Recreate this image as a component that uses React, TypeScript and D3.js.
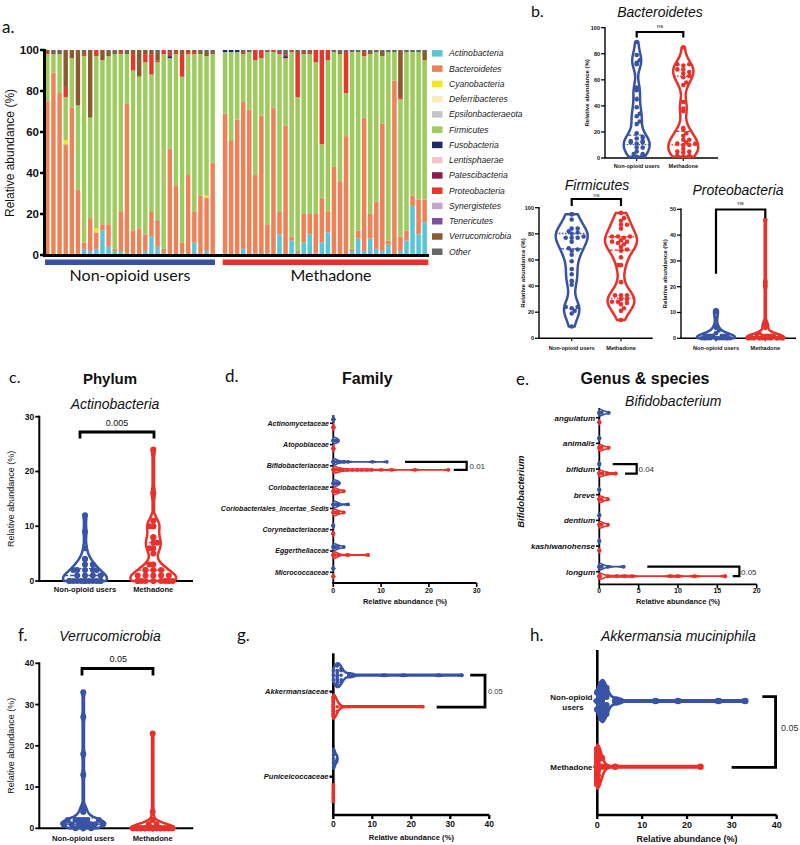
import React from 'react';
import * as d3 from 'd3';

const FONT = "'Liberation Sans', Arial, Helvetica, sans-serif";
const FONT_M = "Lato, 'Liberation Sans', Arial, sans-serif";
const BLUE = '#3953a4';
const RED = '#e8312a';
const groupNames = ['Non-opioid users', 'Methadone'];

// ---------------- Panel a: stacked relative abundance ----------------
const phyla = ['Actinobacteria', 'Bacteroidetes', 'Cyanobacteria', 'Deferribacteres', 'Epsilonbacteraeota', 'Firmicutes', 'Fusobacteria', 'Lentisphaerae', 'Patescibacteria', 'Proteobacteria', 'Synergistetes', 'Tenericutes', 'Verrucomicrobia', 'Other'];
const phylaColors = ['#55c7d9', '#ef8156', '#f2e61c', '#f6ecb9', '#c4c4c4', '#9dcb5d', '#1d2b6b', '#f6c4cd', '#8b1c4d', '#e8362c', '#c9a2cd', '#7d51a0', '#8c5a2c', '#666666'];

const nonActino = [0, 0, 0, 0, 0, 0, 3, 2, 3, 12, 4, 2, 2, 1, 0, 0, 2, 9, 4, 1, 0, 0, 1, 0, 6, 1, 2, 0];
const nonBacter = [75, 89, 79, 54, 72, 32, 3, 16, 8, 3, 11, 1, 19, 73, 12, 13, 8, 12, 13, 2, 52, 34, 5, 39, 15, 28, 26, 45];
const nonCyano = [0, 0, 0, 2, 0, 0, 0, 0, 2, 0, 0, 0, 0, 0, 0, 0, 0, 0, 0, 0, 0, 0, 0, 0, 0, 0, 1, 0];
const nonFirm = [23, 9, 19, 21, 24, 41, 91, 49, 84, 80, 82, 95, 77, 24, 78, 74, 84, 67, 77, 95, 44, 64, 81, 59, 77, 69, 68, 53];
const nonFuso = [0, 0, 0, 0, 0, 0, 0, 0, 0, 0, 0, 0, 0, 0, 0, 0, 0, 0, 0, 0, 1, 0, 0, 0, 0, 0, 0, 0];
const nonProteo = [1, 0, 0, 5, 0, 0, 1, 0, 3, 0, 0, 0, 1, 0, 8, 0, 4, 10, 1, 2, 2, 1, 11, 1, 1, 0, 0, 0];
const nonVerruco = [1, 1, 1, 18, 4, 27, 1, 33, 0, 5, 2, 1, 1, 1, 2, 13, 2, 2, 4, 0, 0, 1, 2, 1, 1, 1, 2, 1];
const nonOther = [0, 1, 1, 0, 0, 0, 1, 0, 0, 0, 1, 1, 0, 1, 0, 0, 0, 0, 1, 0, 1, 0, 0, 0, 0, 1, 1, 1];

const methActino = [1, 0, 0, 3, 0, 1, 0, 1, 0, 10, 0, 7, 1, 6, 10, 1, 6, 11, 0, 0, 0, 2, 8, 2, 8, 3, 2, 5, 0, 2, 7, 24, 10, 16];
const methBacter = [68, 56, 66, 72, 71, 38, 68, 14, 72, 11, 63, 2, 1, 14, 10, 19, 22, 10, 43, 36, 58, 1, 4, 65, 12, 23, 62, 2, 85, 7, 5, 5, 17, 11];
const methFirm = [30, 43, 33, 23, 28, 56, 28, 84, 27, 77, 33, 90, 75, 78, 78, 74, 26, 74, 56, 62, 21, 96, 87, 30, 78, 73, 33, 92, 14, 67, 87, 70, 72, 68];
const methFuso = [1, 1, 1, 0, 0, 0, 0, 0, 0, 0, 1, 0, 0, 0, 0, 0, 0, 0, 0, 0, 0, 0, 0, 0, 0, 0, 0, 0, 0, 0, 0, 0, 0, 0];
const methProteo = [0, 0, 0, 1, 0, 5, 4, 0, 1, 1, 1, 1, 22, 1, 1, 6, 46, 5, 0, 0, 20, 0, 0, 2, 0, 0, 0, 0, 0, 1, 0, 0, 0, 0];
const methVerruco = [0, 0, 0, 0, 0, 0, 0, 0, 0, 0, 0, 0, 0, 0, 0, 0, 0, 0, 0, 1, 0, 0, 0, 0, 1, 0, 2, 0, 0, 23, 0, 0, 0, 4];
const methOther = [0, 0, 0, 1, 1, 0, 0, 1, 0, 1, 2, 0, 1, 1, 1, 0, 0, 0, 1, 1, 1, 1, 1, 1, 1, 1, 1, 1, 1, 0, 1, 1, 1, 1];

const yTicksA = [0, 20, 40, 60, 80, 100];
const yTicksB = [0, 20, 40, 60, 80, 100];
const yTicksProteo = [0, 10, 20, 30, 40, 50];
const yTicksC = [0, 10, 20, 30];
const yTicksF = [0, 10, 20, 30, 40];

// ---------------- Panel d: family ----------------
const families = ['Actinomycetaceae', 'Atopobiaceae', 'Bifidobacteriaceae', 'Coriobacteriaceae', 'Coriobacteriales_Incertae_Sedis', 'Corynebacteriaceae', 'Eggerthellaceae', 'Micrococcaceae'];
const familyNonOpioid = [
  [0, 0, 0, 0, 0, 0.1],
  [0, 0, 0, 0, 0.2, 0.5, 1.0],
  [0, 0, 0, 0, 0, 0, 0.2, 0.7, 1.4, 2.2, 3.1, 8.2, 11.2],
  [0, 0, 0, 0.3, 0.7, 1.2],
  [0, 0, 0, 0.5, 1.0, 3.1],
  [0, 0, 0, 0],
  [0, 0, 0, 0.5, 1.0, 2.2],
  [0, 0, 0],
];
const familyMethadone = [
  [0, 0, 0, 0, 0.1],
  [0, 0, 0, 0, 0.1],
  [0, 0, 0, 0.2, 0.5, 1, 1.5, 2, 3, 4, 5, 6, 7, 8, 10, 12.2, 17.1, 24.1],
  [0, 0, 0.2, 0.5, 1.0, 2.2],
  [0, 0, 0, 0.5, 1.0, 2.2],
  [0, 0, 0, 0],
  [0, 0, 0, 0.3, 1.0, 3.0, 7.3],
  [0, 0, 0],
];
const xTicksD = [0, 10, 20, 30];

// ---------------- Panel e: Bifidobacterium species ----------------
const species = ['angulatum', 'animalis', 'bifidum', 'breve', 'dentium', 'kashiwanohense', 'longum'];
const speciesNonOpioid = [
  [0, 0, 0, 0.3, 1.2],
  [0, 0, 0],
  [0, 0, 0],
  [0, 0, 0],
  [0, 0],
  [0, 0],
  [0, 0, 0, 0, 0.3, 1.1, 3.1],
];
const speciesMethadone = [
  [0, 0, 0],
  [0, 0, 0, 0.3, 1.2],
  [0, 0, 0, 0.4, 1.0, 2.1],
  [0, 0, 0, 0.3, 1.1],
  [0, 0, 0, 0.3, 1.1],
  [0, 0],
  [0, 0, 0, 0.1, 1.1, 2.2, 3.2, 4.2, 9.0, 10.0, 12.1, 16.0],
];
const xTicksE = [0, 5, 10, 15, 20];

// ---------------- Panels g/h: Verrucomicrobia families / species ----------------
const verrucoFamilies = ['Akkermansiaceae', 'Puniceicoccaceae'];
const akkermansiaNonOpioid = [1, 1, 1, 18, 4, 27, 1, 33, 0, 5, 2, 1, 1, 1, 2, 13, 2, 2, 4, 0, 0, 1, 2, 1, 1, 1, 2, 1];
const akkermansiaMethadone = [0, 0, 0, 0, 0, 0, 0, 0, 0, 0, 0, 0, 0, 0, 0, 0, 0, 0, 0, 1, 0, 0, 0, 0, 1, 0, 2, 0, 0, 23, 0, 0, 0, 4];
const puniNonOpioid = [0, 0, 0, 0, 0.3, 0.6, 1.0];
const puniMethadone = [0, 0, 0, 0];
const xTicksG = [0, 10, 20, 30, 40];

// ---------------- helpers ----------------
type Pt = { v: number; w: number };

function profile(values: number[], bw: number, steps = 100): Pt[] | null {
  const lo = d3.min(values) as number;
  const hi = d3.max(values) as number;
  if (hi - lo < 1e-9) return null;
  const out: Pt[] = [];
  for (let i = 0; i <= steps; i++) {
    const v = lo + ((hi - lo) * i) / steps;
    const d = d3.sum(values, (x) => Math.exp(-0.5 * ((v - x) / bw) ** 2));
    out.push({ v, w: d });
  }
  const m = d3.max(out, (p) => p.w) as number;
  out.forEach((p) => (p.w /= m));
  return out;
}

function widthAt(prof: Pt[] | null, v: number) {
  if (!prof) return 1;
  const i = d3.bisector((p: Pt) => p.v).left(prof, v);
  if (i <= 0) return prof[0].w;
  if (i >= prof.length) return prof[prof.length - 1].w;
  const a = prof[i - 1], b = prof[i];
  const t = (v - a.v) / (b.v - a.v || 1);
  return a.w + (b.w - a.w) * t;
}

function swarm(values: number[], scale: (v: number) => number, prof: Pt[] | null, half: number, r: number) {
  const placed: { pos: number; off: number }[] = [];
  const order = [...values].sort((a, b) => a - b);
  for (const v of order) {
    const pos = scale(v);
    const w = widthAt(prof, v) * half;
    const maxOff = Math.max(0, w - r * 0.5);
    const step = r * 1.3;
    const cands = [0];
    for (let k = 1; k * step <= maxOff + 0.01; k++) cands.push(k * step, -k * step);
    let chosen = cands.find((c) => placed.every((q) => Math.hypot(q.pos - pos, q.off - c) >= r * 1.6));
    if (chosen === undefined) chosen = cands[placed.length % cands.length];
    placed.push({ pos, off: chosen });
  }
  return placed;
}

function Violin({ values, scale, c, half, bw, color, r, sw = 2.5, orient = 'v', quart = false, minW = 0.03 }: any) {
  const prof = profile(values, bw);
  const W = (w: number) => Math.max(w, minW) * half;
  let d: string | null = null;
  if (prof) {
    if (orient === 'v') d = d3.area<Pt>().y((p) => scale(p.v)).x0((p) => c - W(p.w)).x1((p) => c + W(p.w)).curve(d3.curveBasis)(prof);
    else d = d3.area<Pt>().x((p) => scale(p.v)).y0((p) => c - W(p.w)).y1((p) => c + W(p.w)).curve(d3.curveBasis)(prof);
  }
  const pts = swarm(values, scale, prof, half, r);
  const sorted = [...values].sort(d3.ascending);
  const qs = [0.25, 0.5, 0.75].map((p) => d3.quantile(sorted, p) as number);
  return (
    <g>
      {d && <path d={d} fill="#fff" stroke={color} strokeWidth={sw} strokeLinejoin="round" />}
      {!prof && (orient === 'v'
        ? <line x1={c - half} x2={c + half} y1={scale(values[0])} y2={scale(values[0])} stroke={color} strokeWidth={sw} />
        : <line y1={c - half} y2={c + half} x1={scale(values[0])} x2={scale(values[0])} stroke={color} strokeWidth={sw} />)}
      {quart && prof && qs.map((q, i) => {
        const w = W(widthAt(prof, q));
        return orient === 'v'
          ? <line key={i} x1={c - w} x2={c + w} y1={scale(q)} y2={scale(q)} stroke={color} strokeWidth={1.3} strokeDasharray={i === 1 ? '4,2' : '1.5,1.5'} />
          : <line key={i} y1={c - w} y2={c + w} x1={scale(q)} x2={scale(q)} stroke={color} strokeWidth={1.3} strokeDasharray={i === 1 ? '4,2' : '1.5,1.5'} />;
      })}
      {pts.map((p, i) => orient === 'v'
        ? <circle key={i} cx={c + p.off} cy={p.pos} r={r} fill={color} />
        : <circle key={i} cx={p.pos} cy={c + p.off} r={r} fill={color} />)}
    </g>
  );
}

function T({ x, y, children, size, weight = 'normal', italic = false, anchor = 'start', family = FONT, fill = '#111', rotate, dy }: any) {
  return (
    <text x={x} y={y} dy={dy} fontSize={size} fontWeight={weight} fontStyle={italic ? 'italic' : 'normal'} textAnchor={anchor} fontFamily={family} fill={fill}
      transform={rotate ? `rotate(${rotate},${x},${y})` : undefined}>{children}</text>
  );
}

function VAxes({ y, axisX, axisEnd, ticks, tickFs, sw, centers, labelFs, labelY, ylabX, ylabFs, ylabBold }: any) {
  const [y0, y1] = y.range();
  const mid = (y0 + y1) / 2;
  return (
    <g>
      <line x1={axisX} x2={axisX} y1={y1 - sw / 2} y2={y0} stroke="#000" strokeWidth={sw} />
      <line x1={axisX - sw / 2} x2={axisEnd} y1={y0} y2={y0} stroke="#000" strokeWidth={sw} />
      {ticks.map((t: number) => (
        <g key={t}>
          <line x1={axisX - 4} x2={axisX} y1={y(t)} y2={y(t)} stroke="#000" strokeWidth={sw * 0.9} />
          <T x={axisX - 5} y={y(t)} dy="0.35em" size={tickFs} weight="bold" anchor="end">{t}</T>
        </g>
      ))}
      {centers.map((c: number, i: number) => (
        <g key={i}>
          <line x1={c} x2={c} y1={y0} y2={y0 + 3} stroke="#000" strokeWidth={sw * 0.8} />
          <T x={c} y={labelY} size={labelFs} weight="bold" anchor="middle">{groupNames[i]}</T>
        </g>
      ))}
      <T x={ylabX} y={mid} size={ylabFs} weight={ylabBold ? 'bold' : 'normal'} anchor="middle" rotate={-90}>Relative abundance (%)</T>
    </g>
  );
}

function HAxes({ x, yTop, yBot, ticks, tickFs, sw, tickY, title, titleY, titleFs }: any) {
  const [x0, x1] = x.range();
  return (
    <g>
      <line x1={x0} x2={x0} y1={yTop} y2={yBot} stroke="#000" strokeWidth={sw} />
      <line x1={x0 - sw / 2} x2={x1} y1={yBot} y2={yBot} stroke="#000" strokeWidth={sw} />
      {ticks.map((t: number) => (
        <g key={t}>
          <line x1={x(t)} x2={x(t)} y1={yBot} y2={yBot + 4} stroke="#000" strokeWidth={sw * 0.9} />
          <T x={x(t)} y={tickY} size={tickFs} weight="bold" anchor="middle">{t}</T>
        </g>
      ))}
      <T x={(x0 + x1) / 2} y={titleY} size={titleFs} weight="bold" anchor="middle">{title}</T>
    </g>
  );
}

const vBracket = (xa: number, xb: number, y: number, ya: number, yb: number) => `M${xa},${ya}V${y}H${xb}V${yb}`;
const hBracket = (ya: number, yb: number, x: number, xa: number, xb: number) => `M${xa},${ya}H${x}V${yb}H${xb}`;

export default function App() {
  // ---------- a ----------
  const ya = d3.scaleLinear().domain([0, 100]).range([255, 50]);
  const xaN = d3.scaleBand<number>().domain(d3.range(nonActino.length)).range([44.5, 215.5]).paddingInner(0.28).paddingOuter(0.1);
  const xaM = d3.scaleBand<number>().domain(d3.range(methActino.length)).range([222.2, 427.5]).paddingInner(0.25).paddingOuter(0.1);
  const nonBy: Record<string, number[]> = { Actinobacteria: nonActino, Bacteroidetes: nonBacter, Cyanobacteria: nonCyano, Firmicutes: nonFirm, Fusobacteria: nonFuso, Proteobacteria: nonProteo, Verrucomicrobia: nonVerruco, Other: nonOther };
  const methBy: Record<string, number[]> = { Actinobacteria: methActino, Bacteroidetes: methBacter, Firmicutes: methFirm, Fusobacteria: methFuso, Proteobacteria: methProteo, Verrucomicrobia: methVerruco, Other: methOther };
  const samplesN = d3.range(nonActino.length).map((i) => Object.fromEntries(phyla.map((p) => [p, nonBy[p] ? nonBy[p][i] : 0])));
  const samplesM = d3.range(methActino.length).map((i) => Object.fromEntries(phyla.map((p) => [p, methBy[p] ? methBy[p][i] : 0])));
  const stack = d3.stack<any>().keys(phyla).value((d: any, k: string) => d[k] || 0);
  const serN = stack(samplesN);
  const serM = stack(samplesM);
  const legendY = d3.scalePoint<string>().domain(phyla).range([53.3, 251.7]);

  const bars = (ser: any[], xs: any) => ser.map((s, k) => s.map((seg: any, i: number) => {
    const h = ya(seg[0]) - ya(seg[1]);
    if (h <= 0) return null;
    return <rect key={`${k}-${i}`} x={xs(i)} y={ya(seg[1])} width={xs.bandwidth()} height={h} fill={phylaColors[k]} />;
  }));

  // ---------- b ----------
  const yB = d3.scaleLinear().domain([0, 100]).range([158, 27.7]);
  const yFi = d3.scaleLinear().domain([0, 100]).range([338.3, 207.7]);
  const yPr = d3.scaleLinear().domain([0, 50]).range([338.3, 209.3]);
  // ---------- c, f ----------
  const yC = d3.scaleLinear().domain([0, 30]).range([581, 416.7]);
  const yF = d3.scaleLinear().domain([0, 40]).range([828.3, 663.3]);
  // ---------- d ----------
  const xD = d3.scaleLinear().domain([0, 30]).range([333.3, 476.7]);
  const yD = d3.scalePoint<string>().domain(families).range([423.3, 572.3]);
  // ---------- e ----------
  const xE = d3.scaleLinear().domain([0, 20]).range([599.3, 756.7]);
  const yE = d3.scalePoint<string>().domain(species).range([417.7, 571.7]);
  // ---------- g ----------
  const xG = d3.scaleLinear().domain([0, 40]).range([333.3, 489.3]);
  const yG = d3.scalePoint<string>().domain(verrucoFamilies).range([691.7, 776.7]);
  // ---------- h ----------
  const xH = d3.scaleLinear().domain([0, 40]).range([597.3, 776.7]);
  const yH = d3.scalePoint<string>().domain(groupNames).range([701, 766.7]);

  const bifY = yD('Bifidobacteriaceae') as number;
  const bifidumY = yE('bifidum') as number;
  const longumY = yE('longum') as number;
  const akkY = yG('Akkermansiaceae') as number;

  return (
    <svg width={800} height={845} style={{ position: 'absolute', left: 0, top: 0, background: '#fff' }}>
      <rect width={800} height={845} fill="#fff" />

      {/* ================= a ================= */}
      <T x={2} y={33} size={17} family={FONT_M}>a.</T>
      {bars(serN, xaN)}
      {bars(serM, xaM)}
      <line x1={44.5} x2={44.5} y1={49} y2={256} stroke="#000" strokeWidth={3} />
      <line x1={43} x2={429} y1={255.5} y2={255.5} stroke="#000" strokeWidth={3} />
      {yTicksA.map((t) => (
        <g key={t}>
          <line x1={40} x2={44.5} y1={ya(t)} y2={ya(t)} stroke="#000" strokeWidth={2.5} />
          <T x={39} y={ya(t)} dy="0.35em" size={11.5} weight="bold" anchor="end">{t}</T>
        </g>
      ))}
      <T x={13.5} y={153} size={12} anchor="middle" rotate={-90}>Relative abundance (%)</T>
      <rect x={45} y={259.5} width={170} height={5.5} fill={BLUE} />
      <rect x={222.7} y={259.5} width={205.6} height={5.5} fill={RED} />
      <T x={130} y={281} size={16} anchor="middle" family={FONT_M}>{groupNames[0]}</T>
      <T x={331} y={281} size={16} anchor="middle" family={FONT_M}>{groupNames[1]}</T>
      {phyla.map((p, i) => (
        <g key={p}>
          <rect x={432} y={(legendY(p) as number) - 3.2} width={10.5} height={6.5} fill={phylaColors[i]} />
          <T x={449} y={legendY(p)} dy="0.35em" size={8.6} italic fill="#222">{p}</T>
        </g>
      ))}

      {/* ================= b ================= */}
      <T x={531} y={17} size={16} family={FONT_M}>b.</T>
      <T x={660} y={17} size={14} italic anchor="middle">Bacteroidetes</T>
      <VAxes y={yB} axisX={605} axisEnd={718} ticks={yTicksB} tickFs={5.5} sw={1.4} centers={[636.7, 683.3]} labelFs={5.6} labelY={168} ylabX={589} ylabFs={6} ylabBold />
      <Violin values={nonBacter} scale={yB} c={636.7} half={13} bw={6} color={BLUE} r={2.3} quart />
      <Violin values={methBacter} scale={yB} c={683.3} half={15} bw={6} color={RED} r={2.3} quart />
      <path d={vBracket(636.7, 683.3, 32, 37.5, 37.5)} fill="none" stroke="#000" strokeWidth={2.2} />
      <T x={660} y={28} size={6} anchor="middle">ns</T>

      <T x={597} y={190} size={14} italic anchor="middle">Firmicutes</T>
      <VAxes y={yFi} axisX={539} axisEnd={652.7} ticks={yTicksB} tickFs={5.5} sw={1.4} centers={[571.7, 621]} labelFs={5.6} labelY={350} ylabX={525} ylabFs={6.2} ylabBold />
      <Violin values={nonFirm} scale={yFi} c={571.7} half={16} bw={7} color={BLUE} r={2.3} quart />
      <Violin values={methFirm} scale={yFi} c={621} half={16} bw={7} color={RED} r={2.3} quart />
      <path d={vBracket(571.7, 621, 199, 206, 206)} fill="none" stroke="#000" strokeWidth={2.2} />
      <T x={596.5} y={196.5} size={5.5} anchor="middle">ns</T>

      <T x={738} y={195} size={14} italic anchor="middle">Proteobacteria</T>
      <VAxes y={yPr} axisX={681} axisEnd={796} ticks={yTicksProteo} tickFs={5.5} sw={1.4} centers={[716, 765.3]} labelFs={5.6} labelY={350} ylabX={667} ylabFs={6.2} ylabBold />
      <Violin values={nonProteo} scale={yPr} c={716} half={19} bw={1.3} color={BLUE} r={2.2} />
      <Violin values={methProteo} scale={yPr} c={765.3} half={19} bw={1.3} color={RED} r={2.2} />
      <path d={vBracket(716, 765.3, 209.5, yPr(25), 218)} fill="none" stroke="#000" strokeWidth={2.2} />
      <T x={740.7} y={205} size={6} anchor="middle">ns</T>

      {/* ================= c ================= */}
      <T x={9} y={383} size={16} family={FONT_M}>c.</T>
      <T x={110} y={384} size={15} weight="bold" anchor="middle">Phylum</T>
      <T x={115} y={408.5} size={14} italic anchor="middle">Actinobacteria</T>
      <VAxes y={yC} axisX={39.3} axisEnd={193} ticks={yTicksC} tickFs={8.5} sw={2} centers={[85, 153.3]} labelFs={7.6} labelY={591.5} ylabX={14} ylabFs={9} />
      <Violin values={nonActino} scale={yC} c={85} half={22} bw={1.1} color={BLUE} r={3} quart />
      <Violin values={methActino} scale={yC} c={153.3} half={23} bw={1.1} color={RED} r={3} quart />
      <path d={vBracket(80, 154, 432, 438.5, 438.5)} fill="none" stroke="#000" strokeWidth={2.8} />
      <T x={117} y={425.5} size={9} anchor="middle">0.005</T>

      {/* ================= d ================= */}
      <T x={225} y={382} size={17} family={FONT_M}>d.</T>
      <T x={367.3} y={384} size={16} weight="bold" anchor="middle">Family</T>
      <HAxes x={xD} yTop={415} yBot={583} ticks={xTicksD} tickFs={7} sw={1.8} tickY={592.5} title="Relative abundance (%)" titleY={603.5} titleFs={7.5} />
      {families.map((f, i) => (
        <g key={f}>
          <line x1={330} x2={333.3} y1={yD(f)} y2={yD(f)} stroke="#000" strokeWidth={1.6} />
          <T x={329} y={yD(f)} dy="0.35em" size={7} weight="bold" italic anchor="end">{f}</T>
          <Violin values={familyNonOpioid[i]} scale={xD} c={(yD(f) as number) - 4} half={3.2} bw={0.6} color={BLUE} r={1.9} sw={1.6} orient="h" />
          <Violin values={familyMethadone[i]} scale={xD} c={(yD(f) as number) + 4} half={3.2} bw={0.6} color={RED} r={1.9} sw={1.6} orient="h" />
        </g>
      ))}
      <path d={hBracket(bifY - 4, bifY + 4, xD(27.9), xD(15), xD(25.2))} fill="none" stroke="#000" strokeWidth={2.2} />
      <T x={469.5} y={bifY} dy="0.35em" size={8} fill="#333">0.01</T>

      {/* ================= e ================= */}
      <T x={516} y={385} size={17} family={FONT_M}>e.</T>
      <T x={645} y={384} size={16} weight="bold" anchor="middle">Genus &amp; species</T>
      <T x={673.3} y={406} size={14} italic anchor="middle">Bifidobacterium</T>
      <HAxes x={xE} yTop={408} yBot={584.3} ticks={xTicksE} tickFs={7} sw={1.8} tickY={593} title="Relative abundance (%)" titleY={604} titleFs={7.5} />
      <T x={524.5} y={491.7} size={9.5} weight="bold" italic anchor="middle" rotate={-90}>Bifidobacterium</T>
      {species.map((s, i) => (
        <g key={s}>
          <line x1={596} x2={599.3} y1={yE(s)} y2={yE(s)} stroke="#000" strokeWidth={1.6} />
          <T x={595} y={yE(s)} dy="0.35em" size={8} weight="bold" italic anchor="end">{s}</T>
          <Violin values={speciesNonOpioid[i]} scale={xE} c={(yE(s) as number) - 5} half={3.2} bw={0.4} color={BLUE} r={2} sw={1.6} orient="h" />
          <Violin values={speciesMethadone[i]} scale={xE} c={(yE(s) as number) + 4.5} half={3.2} bw={0.4} color={RED} r={2} sw={1.6} orient="h" />
        </g>
      ))}
      <path d={hBracket(bifidumY - 5, bifidumY + 4.5, xE(4.75), xE(1.7), xE(3.27))} fill="none" stroke="#000" strokeWidth={2.2} />
      <T x={638.5} y={bifidumY} dy="0.35em" size={8} fill="#333">0.04</T>
      <path d={hBracket(longumY - 5, longumY + 4.5, xE(17.8), xE(6.1), xE(16.95))} fill="none" stroke="#000" strokeWidth={2.2} />
      <T x={741} y={longumY} dy="0.35em" size={8} fill="#333">0.05</T>

      {/* ================= f ================= */}
      <T x={18} y={641} size={17} family={FONT_M}>f.</T>
      <T x={110} y={641} size={14} italic anchor="middle">Verrucomicrobia</T>
      <VAxes y={yF} axisX={39.3} axisEnd={193.3} ticks={yTicksF} tickFs={8.5} sw={2} centers={[83.3, 152.7]} labelFs={7.6} labelY={841} ylabX={14} ylabFs={9} />
      <Violin values={nonVerruco} scale={yF} c={83.3} half={22} bw={1} color={BLUE} r={3} quart />
      <Violin values={methVerruco} scale={yF} c={152.7} half={22} bw={1} color={RED} r={3} quart />
      <path d={vBracket(82, 153, 668.5, 675.5, 675.5)} fill="none" stroke="#000" strokeWidth={2.8} />
      <T x={118.3} y={662} size={9} anchor="middle">0.05</T>

      {/* ================= g ================= */}
      <T x={237} y={641} size={17} family={FONT_M}>g.</T>
      <HAxes x={xG} yTop={653.3} yBot={815} ticks={xTicksG} tickFs={8.5} sw={2.6} tickY={827} title="Relative abundance (%)" titleY={840} titleFs={7.6} />
      {verrucoFamilies.map((f) => (
        <g key={f}>
          <line x1={329.5} x2={333.3} y1={yG(f)} y2={yG(f)} stroke="#000" strokeWidth={2.4} />
          <T x={328.5} y={yG(f)} dy="0.35em" size={7.5} weight="bold" italic anchor="end">{f}</T>
        </g>
      ))}
      <Violin values={akkermansiaNonOpioid} scale={xG} c={akkY - 16.5} half={12} bw={0.8} color={BLUE} r={1.8} sw={2.5} orient="h" />
      <Violin values={akkermansiaMethadone} scale={xG} c={akkY + 15} half={12} bw={0.8} color={RED} r={1.8} sw={2.5} orient="h" />
      <Violin values={puniNonOpioid} scale={xG} c={(yG('Puniceicoccaceae') as number) - 18} half={10} bw={0.3} color={BLUE} r={1.6} sw={2.5} orient="h" />
      <Violin values={puniMethadone} scale={xG} c={(yG('Puniceicoccaceae') as number) + 16.5} half={10} bw={0.3} color={RED} r={1.6} sw={3.5} orient="h" />
      <path d={hBracket(akkY - 16.5, akkY + 15.5, xG(38.9), xG(35.1), xG(26.5))} fill="none" stroke="#000" strokeWidth={2.8} />
      <T x={488} y={akkY} dy="0.35em" size={7.6} fill="#333">0.05</T>

      {/* ================= h ================= */}
      <T x={530} y={641} size={17} family={FONT_M}>h.</T>
      <T x={678.3} y={641} size={14} italic anchor="middle">Akkermansia muciniphila</T>
      <HAxes x={xH} yTop={650} yBot={815} ticks={xTicksG} tickFs={9} sw={2.6} tickY={827.5} title="Relative abundance (%)" titleY={841.5} titleFs={9} />
      <line x1={593.5} x2={597.3} y1={yH(groupNames[0])} y2={yH(groupNames[0])} stroke="#000" strokeWidth={2.4} />
      <line x1={593.5} x2={597.3} y1={yH(groupNames[1])} y2={yH(groupNames[1])} stroke="#000" strokeWidth={2.4} />
      <T x={592.5} y={(yH(groupNames[0]) as number) - 1.5} size={8} weight="bold" anchor="end">Non-opioid</T>
      <T x={573} y={(yH(groupNames[0]) as number) + 9} size={8} weight="bold" anchor="middle">users</T>
      <T x={592.5} y={yH(groupNames[1])} dy="0.35em" size={8} weight="bold" anchor="end">Methadone</T>
      <Violin values={akkermansiaNonOpioid} scale={xH} c={yH(groupNames[0])} half={21} bw={0.8} color={BLUE} r={3.3} sw={2.6} orient="h" />
      <Violin values={akkermansiaMethadone} scale={xH} c={yH(groupNames[1])} half={22} bw={0.8} color={RED} r={3.3} sw={2.6} orient="h" />
      <path d={hBracket(696.7, 767.3, xH(39.75), xH(36.8), xH(29.95))} fill="none" stroke="#000" strokeWidth={2.8} />
      <T x={781} y={731} size={9} fill="#333">0.05</T>
    </svg>
  );
}
